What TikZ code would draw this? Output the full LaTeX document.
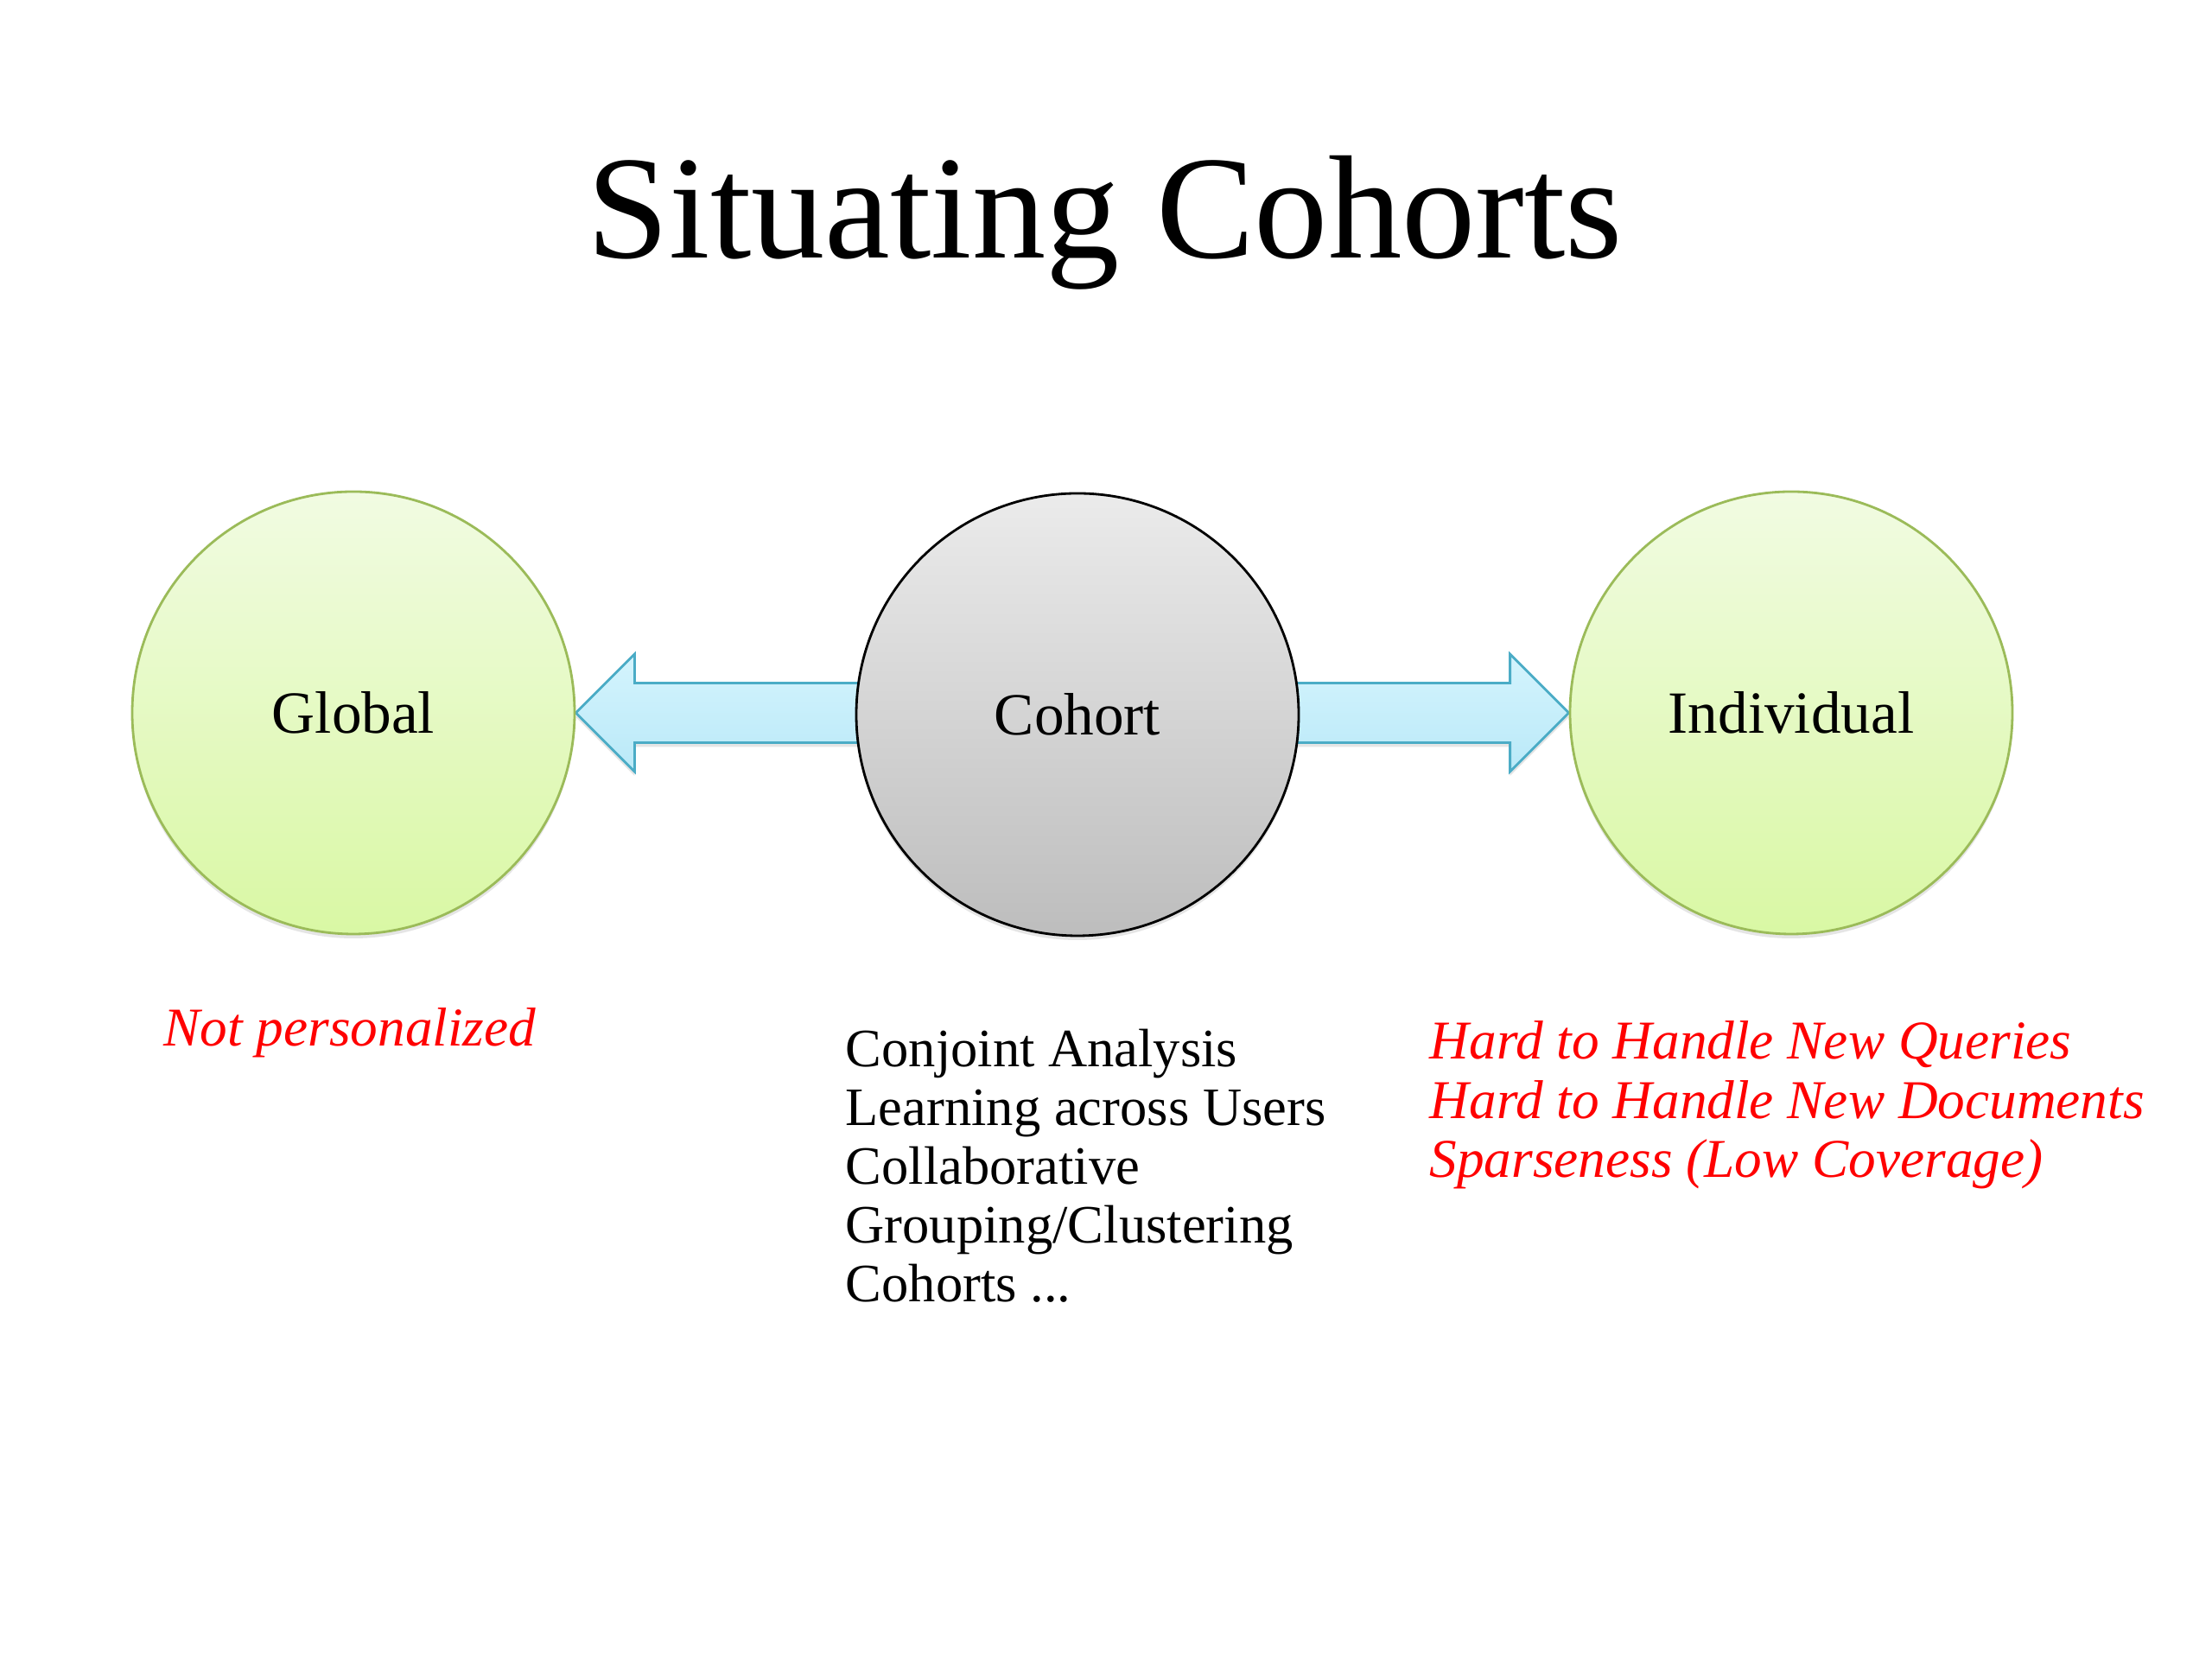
\documentclass[tikz,border=0pt]{standalone}
\usepackage{fontspec}
\setmainfont{Liberation Serif}
\usetikzlibrary{calc,shadows,backgrounds}
\definecolor{ink}{HTML}{000000}
\definecolor{alert}{HTML}{FF0000}
\definecolor{greenline}{HTML}{9BBB59}
\definecolor{greentop}{HTML}{F1FBE2}
\definecolor{greenbot}{HTML}{D9F8A4}
\definecolor{graytop}{HTML}{EBEBEB}
\definecolor{graybot}{HTML}{BDBDBD}
\definecolor{aqualine}{HTML}{4BACC6}
\definecolor{aquatop}{HTML}{D4F4FD}
\definecolor{aquabot}{HTML}{BAE9F8}

\begin{document}
\begin{tikzpicture}[
  softshadow/.style={drop shadow={opacity=0.2,shadow xshift=0pt,shadow yshift=-0.05cm}},
  bigcircle/.style={circle,minimum size=5.12cm,inner sep=0pt,line width=0.8pt,
                    font=\fontsize{19.7}{23}\selectfont,text=ink,softshadow},
  endcircle/.style={bigcircle,draw=greenline,top color=greentop,bottom color=greenbot},
  midcircle/.style={bigcircle,draw=ink,top color=graytop,bottom color=graybot},
  blockarrow/.style={draw=aqualine,line width=0.8pt,top color=aquatop,
                     bottom color=aquabot,softshadow},
  titletext/.style={font=\fontsize{48.5}{58}\selectfont,text=ink,inner sep=0pt},
  listtext/.style={font=\fontsize{17.8}{19.4}\selectfont,text=ink,align=left,inner sep=0pt},
  notetext/.style={listtext,font=\fontsize{18}{19.5}\selectfont\itshape,text=alert}
]
\useasboundingbox (0,0) rectangle (25.6,19.2);

% Title.
\node[titletext,anchor=base] (title) at (12.79,16.21) {Situating Cohorts};

% -------------------------------------------------------------------------
% The three circles.
\node[endcircle] (global) at (4.09,10.95) {Global};
\node[midcircle] (cohort) at (12.47,10.93) {Cohort};
\node[endcircle] (individual) at (20.73,10.95) {Individual};

% Block arrows, behind the circles.
\begin{scope}[on background layer]
\fill[white] (0,0) rectangle (25.6,19.2);
\draw[blockarrow] (global.east) -- ++(0.68,0.68) |- ($(global.east -| cohort.center)+(0,0.345)$)
  -- ($(global.east -| cohort.center)+(0,-0.345)$) -| ($(global.east)+(0.68,-0.68)$) -- cycle;
\draw[blockarrow] (individual.west) -- ++(-0.68,0.68) |- ($(individual.west -| cohort.center)+(0,0.345)$)
  -- ($(individual.west -| cohort.center)+(0,-0.345)$) -| ($(individual.west)+(-0.68,-0.68)$) -- cycle;
\end{scope}

% -------------------------------------------------------------------------
% Notes under the circles.
\node[notetext,anchor=base west] (globalnote) at (1.89,7.09) {Not personalized};

\node[listtext,anchor=north west] (cohortlist) at (9.78,7.30)
  {Conjoint Analysis\\Learning across Users\\Collaborative\\Grouping/Clustering\\Cohorts ...};

\node[notetext,anchor=north west] (individualnote) at (16.54,7.39)
  {Hard to Handle New Queries\\Hard to Handle New Documents\\Sparseness (Low Coverage)};

\end{tikzpicture}
\end{document}
